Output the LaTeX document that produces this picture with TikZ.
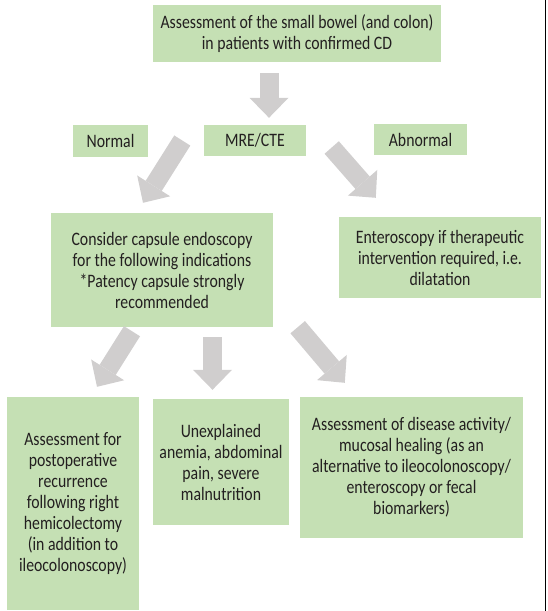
\documentclass[tikz,border=0pt]{standalone}
\usepackage{fontspec}
\setmainfont{Carlito}[FakeStretch=0.83]
\usetikzlibrary{arrows.meta}
\definecolor{boxgreen}{RGB}{197,224,180}
\definecolor{arrowgray}{RGB}{208,206,206}
\definecolor{textgray}{RGB}{35,31,32}
\tikzset{
    box/.style = {fill = boxgreen, text = textgray, align = center, inner sep = 0pt, font = \fontsize{19}{21}\selectfont},
    bigarrow/.style = {draw = arrowgray, line width = 19pt, -{Triangle[width = 39pt, length = 20pt, line width = 0pt]}}
}
\begin{document}
\begin{tikzpicture}[x = 1pt, y = -1pt]
    \useasboundingbox (0,0) rectangle (548,611);
    \node[box, minimum width = 288pt, minimum height = 57pt] (top) at (297,33.5) {Assessment of the small bowel (and colon)\\in patients with confirmed CD};
    \node[box, minimum width = 75pt, minimum height = 32pt] (norm) at (110.5,141) {Normal};
    \node[box, minimum width = 102pt, minimum height = 31pt] (mre) at (255,140.5) {MRE/CTE};
    \node[box, minimum width = 93pt, minimum height = 31pt] (abn) at (420.5,139.5) {Abnormal};
    \node[box, minimum width = 222pt, minimum height = 114pt] (cap) at (162,270) {Consider capsule endoscopy\\for the following indications\\*Patency capsule strongly\\recommended};
    \node[box, minimum width = 202pt, minimum height = 81pt] (ent) at (440,257.5) {Enteroscopy if therapeutic\\intervention required, i.e.\\dilatation};
    \node[box, minimum width = 132pt, minimum height = 213pt] (post) at (73,503.5) {Assessment for\\postoperative\\recurrence\\following right\\hemicolectomy\\(in addition to\\ileocolonoscopy)};
    \node[box, minimum width = 136pt, minimum height = 126pt] (anem) at (221,462) {Unexplained\\anemia, abdominal\\pain, severe\\malnutrition};
    \node[box, minimum width = 223pt, minimum height = 141pt] (act) at (411.5,467.5) {Assessment of disease activity/\\mucosal healing (as an\\alternative to ileocolonoscopy/\\enteroscopy or fecal\\biomarkers)};
    \begin{scope}[every path/.append style = bigarrow]
        \draw ([xshift = -28pt, yshift = -11pt]top.south) -- ([xshift = 14pt, yshift = 7pt]mre.north);
        \draw ([xshift = -21.5pt]mre.west) -- ([xshift = -19pt, yshift = 10pt]cap.north);
        \draw ([xshift = 25.5pt, yshift = -7pt]mre.east) -- ([xshift = 37pt, yshift = 19pt]ent.north west);
        \draw ([xshift = -30pt, yshift = -4pt]cap.south) -- ([xshift = 24pt, yshift = 10pt]post.north);
        \draw ([xshift = 50.5pt, yshift = -10pt]cap.south) -- ([xshift = -8.5pt, yshift = 9pt]anem.north);
        \draw ([xshift = 24.5pt]cap.south east) -- ([xshift = 45pt, yshift = 14pt]act.north west);
    \end{scope}
    \draw[black, line width = 1pt] (545,0) -- (545,611);
\end{tikzpicture}
\end{document}
